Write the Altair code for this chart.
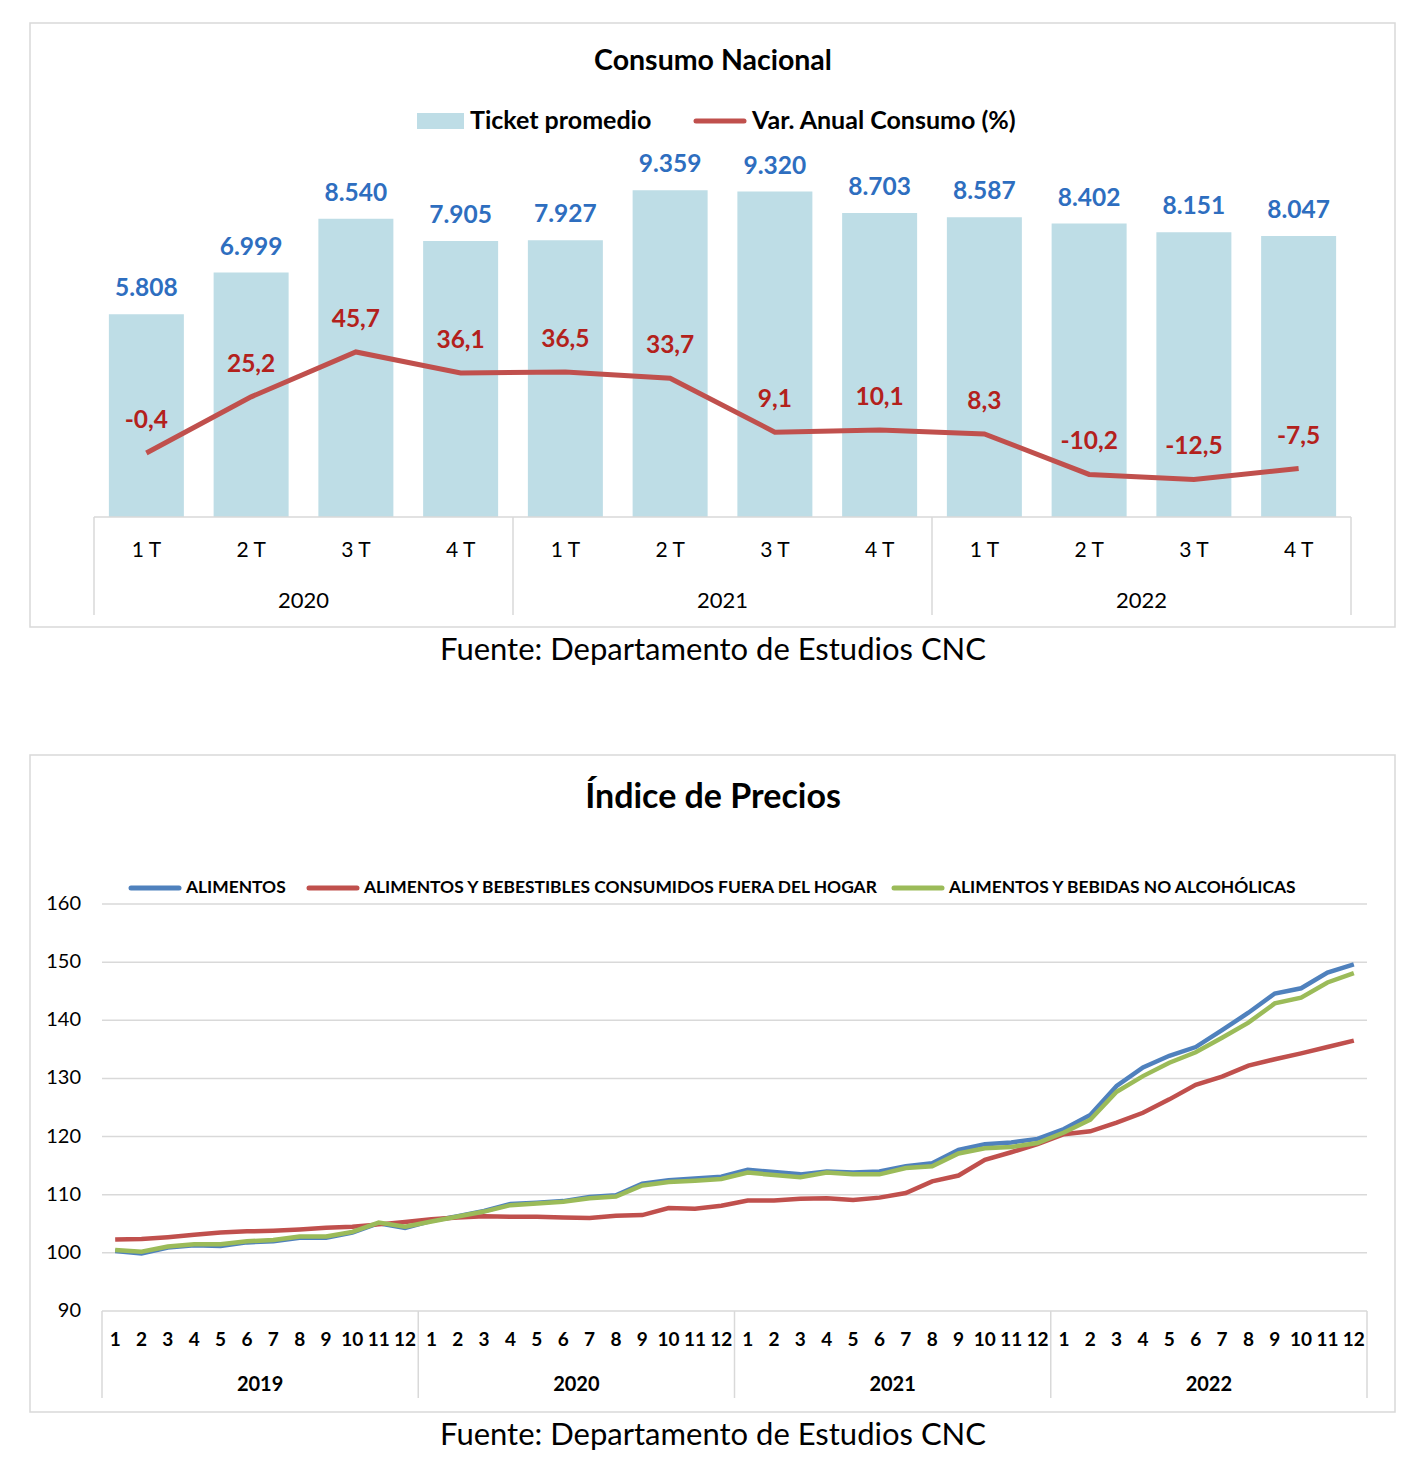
import altair as alt
import pandas as pd

FONT = "Lato"

# ---------------- Top chart data ----------------
quarters = ["1 T", "2 T", "3 T", "4 T"] * 3
q_years = ["2020", "2021", "2022"]
ticket = [5808, 6999, 8540, 7905, 7927, 9359, 9320, 8703, 8587, 8402, 8151, 8047]
var_anual = [-0.4, 25.2, 45.7, 36.1, 36.5, 33.7, 9.1, 10.1, 8.3, -10.2, -12.5, -7.5]

# ---------------- Bottom chart data ----------------
m_years = ["2019", "2020", "2021", "2022"]
months = [str(m) for m in range(1, 13)] * 4
alimentos = [100.3, 99.9, 100.9, 101.3, 101.2, 101.8, 102.0, 102.6, 102.6, 103.5, 105.1, 104.3,
             105.5, 106.3, 107.2, 108.4, 108.6, 108.9, 109.6, 109.9, 111.9, 112.5, 112.8, 113.1,
             114.3, 113.9, 113.5, 114.0, 113.8, 114.0, 114.9, 115.4, 117.7, 118.7, 119.0, 119.6,
             121.3, 123.7, 128.7, 131.9, 133.9, 135.4, 138.3, 141.3, 144.6, 145.5, 148.2, 149.6]
fuera_hogar = [102.3, 102.4, 102.7, 103.1, 103.5, 103.7, 103.8, 104.0, 104.3, 104.5, 104.9, 105.3,
               105.8, 106.1, 106.3, 106.2, 106.2, 106.1, 106.0, 106.4, 106.5, 107.7, 107.6, 108.1,
               109.0, 109.0, 109.3, 109.4, 109.1, 109.5, 110.3, 112.3, 113.3, 116.0, 117.3, 118.7,
               120.4, 120.9, 122.4, 124.1, 126.4, 128.9, 130.3, 132.2, 133.3, 134.3, 135.4, 136.5]
bebidas = [100.5, 100.2, 101.1, 101.5, 101.5, 102.0, 102.2, 102.8, 102.8, 103.6, 105.2, 104.5,
           105.4, 106.25, 107.1, 108.2, 108.5, 108.8, 109.4, 109.7, 111.6, 112.2, 112.4, 112.7,
           113.8, 113.4, 113.0, 113.8, 113.5, 113.5, 114.6, 114.9, 117.1, 118.0, 118.2, 118.9,
           120.7, 122.9, 127.7, 130.4, 132.7, 134.5, 137.0, 139.6, 142.9, 143.9, 146.5, 148.1]
series_names = ["ALIMENTOS", "ALIMENTOS Y BEBESTIBLES CONSUMIDOS FUERA DEL HOGAR",
                "ALIMENTOS Y BEBIDAS NO ALCOHÓLICAS"]
series_colors = ["#4F81BD", "#C0504D", "#9BBB59"]
y_ticks = [90, 100, 110, 120, 130, 140, 150, 160]

title_top = "Consumo Nacional"
title_bottom = "Índice de Precios"
legend_top = ["Ticket promedio", "Var. Anual Consumo (%)"]
source = "Fuente: Departamento de Estudios CNC"

GRID = "#D9D9D9"
one = pd.DataFrame({"a": [0]})

# ================= TOP PANEL =================
W1, H1 = 1365, 604
df_top = pd.DataFrame({
    "idx": list(range(12)),
    "quarter": quarters,
    "ticket": ticket,
    "var": var_anual,
    "ticket_lbl": [f"{v:,}".replace(",", ".") for v in ticket],
    "var_lbl": [f"{v:.1f}".replace(".", ",") for v in var_anual],
})
xs1 = alt.Scale(domain=[-0.5, 11.5], range=[64, 1321], nice=False, zero=False, padding=0)
ys_bar = alt.Scale(domain=[0, 10000], range=[494, 144.8], nice=False)
ys_line = alt.Scale(domain=[-30, 130], range=[494.8, 144.3], nice=False, zero=False)
X1 = alt.X("idx:Q", scale=xs1, axis=None)

bars = alt.Chart(df_top).mark_bar(color="#BEDDE6", width=75, orient="vertical").encode(
    x=X1, y=alt.Y("ticket:Q", scale=ys_bar, axis=None), y2=alt.datum(0))
bar_lbl = alt.Chart(df_top).mark_text(dy=-25, fontSize=24.5, fontWeight="bold", color="#2E6EBF",
                                      font=FONT).encode(
    x=X1, y=alt.Y("ticket:Q", scale=ys_bar, axis=None), text="ticket_lbl:N")
line = alt.Chart(df_top).mark_line(color="#C0504D", strokeWidth=5).encode(
    x=X1, y=alt.Y("var:Q", scale=ys_line, axis=None))
line_lbl = alt.Chart(df_top).mark_text(dy=-32, fontSize=24.5, fontWeight="bold", color="#B3211C",
                                       font=FONT).encode(
    x=X1, y=alt.Y("var:Q", scale=ys_line, axis=None), text="var_lbl:N")

axis_line = alt.Chart(one).mark_rule(color=GRID, strokeWidth=1.5).encode(
    x=alt.value(64), x2=alt.value(1321), y=alt.value(494))
seps1 = alt.Chart(pd.DataFrame({"pos": [-0.5, 3.5, 7.5, 11.5]})).mark_rule(
    color=GRID, strokeWidth=1.5).encode(
    x=alt.X("pos:Q", scale=xs1, axis=None), y=alt.value(494), y2=alt.value(592))
q_lbl = alt.Chart(df_top).mark_text(fontSize=21, font=FONT, color="black").encode(
    x=X1, y=alt.value(528), text="quarter:N")
yr_lbl1 = alt.Chart(pd.DataFrame({"pos": [1.5, 5.5, 9.5], "year": q_years})).mark_text(
    fontSize=22, font=FONT, color="black").encode(
    x=alt.X("pos:Q", scale=xs1, axis=None), y=alt.value(578), text="year:N")

t1 = alt.Chart(pd.DataFrame({"t": [title_top]})).mark_text(
    fontSize=28.5, fontWeight="bold", font=FONT, color="black").encode(
    x=alt.value(683), y=alt.value(38), text="t:N")
leg_rect = alt.Chart(one).mark_rect(color="#BEDDE6").encode(
    x=alt.value(387), x2=alt.value(434), y=alt.value(90), y2=alt.value(106))
leg_t1 = alt.Chart(pd.DataFrame({"t": [legend_top[0]]})).mark_text(
    align="left", fontSize=25, fontWeight="bold", font=FONT, color="black").encode(
    x=alt.value(440), y=alt.value(98), text="t:N")
leg_line = alt.Chart(one).mark_rule(color="#C0504D", strokeWidth=5, strokeCap="round").encode(
    x=alt.value(666), x2=alt.value(714), y=alt.value(98))
leg_t2 = alt.Chart(pd.DataFrame({"t": [legend_top[1]]})).mark_text(
    align="left", fontSize=25, fontWeight="bold", font=FONT, color="black").encode(
    x=alt.value(722), y=alt.value(98), text="t:N")
src1 = alt.Chart(pd.DataFrame({"t": [source]})).mark_text(
    fontSize=31, font=FONT, color="black").encode(
    x=alt.value(683), y=alt.value(628), text="t:N")

top = alt.layer(bars, axis_line, seps1, line, bar_lbl, line_lbl, q_lbl, yr_lbl1,
                t1, leg_rect, leg_t1, leg_line, leg_t2, src1).resolve_scale(
    y="independent").properties(width=W1, height=H1)

# ================= BOTTOM PANEL =================
W2, H2 = 1365, 657
xs2 = alt.Scale(domain=[-0.5, 47.5], range=[72, 1337], nice=False, zero=False, padding=0)
ys2 = alt.Scale(domain=[90, 160], range=[556, 149], nice=False, zero=False)
X2 = alt.X("idx:Q", scale=xs2, axis=None)

grid = alt.Chart(pd.DataFrame({"v": y_ticks})).mark_rule(color=GRID, strokeWidth=1.5).encode(
    y=alt.Y("v:Q", scale=ys2, axis=None), x=alt.value(72), x2=alt.value(1337))
ytxt = alt.Chart(pd.DataFrame({"v": y_ticks})).mark_text(
    align="right", fontSize=20, font=FONT, color="black").encode(
    y=alt.Y("v:Q", scale=ys2, axis=None), x=alt.value(51), text="v:Q")

line_layers = []
for name, vals, col in zip(series_names, [alimentos, fuera_hogar, bebidas], series_colors):
    d = pd.DataFrame({"idx": list(range(48)), "v": vals, "s": name})
    line_layers.append(alt.Chart(d).mark_line(color=col, strokeWidth=4.5).encode(
        x=X2, y=alt.Y("v:Q", scale=ys2, axis=None)))

df_m = pd.DataFrame({"idx": list(range(48)), "m": months})
m_lbl = alt.Chart(df_m).mark_text(fontSize=19, fontWeight="bold", font=FONT, color="black").encode(
    x=X2, y=alt.value(585), text="m:N")
yr_lbl2 = alt.Chart(pd.DataFrame({"pos": [5.5, 17.5, 29.5, 41.5], "year": m_years})).mark_text(
    fontSize=20, fontWeight="bold", font=FONT, color="black").encode(
    x=alt.X("pos:Q", scale=xs2, axis=None), y=alt.value(630), text="year:N")
seps2 = alt.Chart(pd.DataFrame({"pos": [-0.5, 11.5, 23.5, 35.5, 47.5]})).mark_rule(
    color=GRID, strokeWidth=1.5).encode(
    x=alt.X("pos:Q", scale=xs2, axis=None), y=alt.value(556), y2=alt.value(643))

t2 = alt.Chart(pd.DataFrame({"t": [title_bottom]})).mark_text(
    fontSize=34, fontWeight="bold", font=FONT, color="black").encode(
    x=alt.value(683), y=alt.value(43), text="t:N")

leg2 = []
for name, col, x0 in zip(series_names, series_colors, [101, 279, 864]):
    leg2.append(alt.Chart(one).mark_rule(color=col, strokeWidth=5, strokeCap="round").encode(
        x=alt.value(x0), x2=alt.value(x0 + 48), y=alt.value(133)))
    leg2.append(alt.Chart(pd.DataFrame({"t": [name]})).mark_text(
        align="left", fontSize=17.4, fontWeight="bold", font=FONT, color="black").encode(
        x=alt.value(x0 + 55), y=alt.value(133), text="t:N"))
src2 = alt.Chart(pd.DataFrame({"t": [source]})).mark_text(
    fontSize=31, font=FONT, color="black").encode(
    x=alt.value(683), y=alt.value(681), text="t:N")

bottom = alt.layer(grid, ytxt, *line_layers, seps2, m_lbl, yr_lbl2, t2, *leg2, src2).resolve_scale(
    y="independent").properties(width=W2, height=H2)

chart = alt.vconcat(top, bottom, spacing=128, bounds="flush").properties(
    padding={"left": 21, "top": 14, "right": 10, "bottom": 50},
    background="white",
).configure_view(stroke=GRID, strokeWidth=1.5)

chart.save("out.html", embed_options={"renderer": "svg", "actions": False})
